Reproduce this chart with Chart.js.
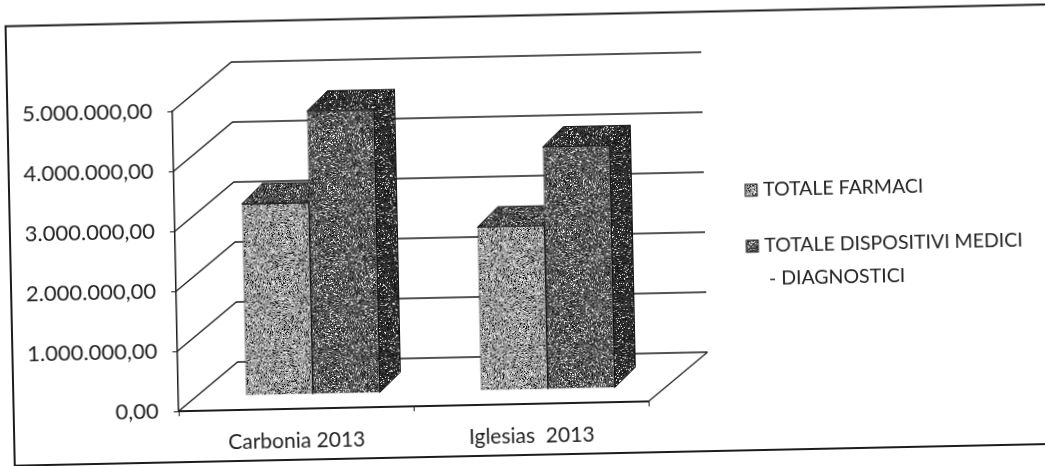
<!DOCTYPE html>
<html lang="it">
<head>
  <meta charset="UTF-8" />
  <title>Totale farmaci e dispositivi medici</title>
  <script src="https://cdn.jsdelivr.net/npm/chart.js"></script>
  <style>
    html, body { margin: 0; background: #fff; overflow: hidden; width: 1045px; height: 466px; }
    /* the source is a crooked scan, so the whole canvas is turned a little */
    #chart { position: absolute; left: -20px; top: -20px; transform-origin: 542.5px 253px; transform: rotate(-1.2deg); }
  </style>
</head>
<body>
  <canvas id="chart" width="1085" height="506"></canvas>
  <script>
    const categories = ['Carbonia 2013', 'Iglesias  2013'];
    const farmaci = [3200000, 2730000];
    const dispositivi = [4720000, 4040000];
    const tickLabels = ['0,00', '1.000.000,00', '2.000.000,00', '3.000.000,00', '4.000.000,00', '5.000.000,00'];
    const legendLines = [['TOTALE FARMACI'], ['TOTALE DISPOSITIVI MEDICI', '- DIAGNOSTICI']];

    const ink = '#1c1c1c';
    const fontFamily = 'Lato, "Open Sans", sans-serif';

    // 3D look: how far the back wall and the bars sit behind the axes
    const wall = { dx: 60, dy: -48 };
    const barShift = { dx: 17, dy: -14 };
    const barDepth = { dx: 21, dy: -20 };

    // scanned dither texture, deterministic
    function speckle(base, whiteShare, blackShare, salt) {
      const c = document.createElement('canvas');
      c.width = c.height = 128;
      const g = c.getContext('2d');
      let s = salt * 2654435761 >>> 0;
      for (let y = 0; y < 128; y++) {
        for (let x = 0; x < 128; x++) {
          s ^= s << 13; s >>>= 0;
          s ^= s >>> 17;
          s ^= s << 5; s >>>= 0;
          const n = s / 4294967296;
          g.fillStyle = n < whiteShare ? '#e8e8e8' : n > 1 - blackShare ? '#161616' : base;
          g.fillRect(x, y, 1, 1);
        }
      }
      return g.createPattern(c, 'repeat');
    }

    const ctx = document.getElementById('chart').getContext('2d');
    const lightFront = speckle('#969696', 0.2, 0.14, 1);
    const darkFront = speckle('#5c5c5c', 0.14, 0.2, 2);
    const lightTop = speckle('#5a5a5a', 0.1, 0.25, 3);
    const darkTop = speckle('#3e3e3e', 0.1, 0.35, 4);
    const darkSide = speckle('#3a3a3a', 0.09, 0.38, 5);

    const wallsAndFaces = {
      id: 'wallsAndFaces',
      beforeDraw(chart) {
        // outer frame, the right side runs off the page
        const c = chart.ctx;
        c.save();
        c.strokeStyle = ink;
        c.lineWidth = 2;
        c.strokeRect(30, 35.5, 1100, 439.5);
        c.restore();
      },
      beforeDatasetsDraw(chart) {
        const c = chart.ctx;
        const { left, right, bottom } = chart.chartArea;
        const y = chart.scales.y;
        c.save();
        c.strokeStyle = ink;
        c.lineWidth = 1.3;
        tickLabels.forEach((label, i) => {
          const py = y.getPixelForValue(i * 1000000);
          c.beginPath();
          c.moveTo(left, py);
          c.lineTo(left + wall.dx, py + wall.dy);
          c.lineTo(right + wall.dx, py + wall.dy);
          c.stroke();
        });
        c.beginPath();
        c.moveTo(right, bottom);
        c.lineTo(right + wall.dx, bottom + wall.dy);
        c.stroke();

        // top and side of each bar go under the fronts the library draws
        c.translate(barShift.dx, barShift.dy);
        c.strokeStyle = '#111';
        c.lineWidth = 1;
        chart.getDatasetMeta(0).data.forEach((bar, i) => {
          [[bar, lightTop], [chart.getDatasetMeta(1).data[i], darkTop]].forEach(([b, topFill]) => {
            const l = b.x - b.width / 2;
            const r = b.x + b.width / 2;
            c.fillStyle = topFill;
            c.beginPath();
            c.moveTo(l, b.y);
            c.lineTo(l + barDepth.dx, b.y + barDepth.dy);
            c.lineTo(r + barDepth.dx, b.y + barDepth.dy);
            c.lineTo(r, b.y);
            c.closePath();
            c.fill();
            c.stroke();
            c.fillStyle = darkSide;
            c.beginPath();
            c.moveTo(r, b.y);
            c.lineTo(r + barDepth.dx, b.y + barDepth.dy);
            c.lineTo(r + barDepth.dx, b.base + barDepth.dy);
            c.lineTo(r, b.base);
            c.closePath();
            c.fill();
            c.stroke();
          });
        });
        c.restore();
      },
      beforeDatasetDraw(chart) {
        chart.ctx.save();
        chart.ctx.translate(barShift.dx, barShift.dy);
      },
      afterDatasetDraw(chart) {
        chart.ctx.restore();
      },
      afterDraw(chart) {
        // legend, second entry wraps on two lines
        const c = chart.ctx;
        const fills = [lightFront, darkFront];
        const rows = [[766, 215], [766, 271]];
        c.save();
        c.font = '19.5px ' + fontFamily;
        c.textBaseline = 'middle';
        legendLines.forEach((lines, i) => {
          const [boxX, rowY] = rows[i];
          c.fillStyle = fills[i];
          c.fillRect(boxX, rowY - 6, 12, 12);
          c.strokeStyle = ink;
          c.strokeRect(boxX, rowY - 6, 12, 12);
          c.fillStyle = '#222';
          lines.forEach((line, k) => {
            c.fillText(line, boxX + 18 + (k ? 4 : 0), rowY + k * 33);
          });
        });
        c.restore();
      }
    };

    new Chart(ctx, {
      type: 'bar',
      data: {
        labels: categories,
        datasets: [
          { label: legendLines[0].join(' '), data: farmaci, backgroundColor: lightFront, borderColor: '#222', borderWidth: 1 },
          { label: legendLines[1].join(' '), data: dispositivi, backgroundColor: darkFront, borderColor: '#111', borderWidth: 1 }
        ]
      },
      options: {
        responsive: false,
        animation: false,
        layout: { padding: { top: 124, right: 420, left: 0, bottom: 0 } },
        datasets: { bar: { categoryPercentage: 0.57, barPercentage: 1 } },
        plugins: { legend: { display: false }, tooltip: { enabled: false } },
        scales: {
          x: {
            afterFit: s => { s.height = 82; },
            border: { color: ink, width: 2 },
            grid: { drawOnChartArea: false, color: ink, tickLength: 5 },
            ticks: { color: '#222', padding: 15, maxRotation: 0, font: { family: fontFamily, size: 21 } }
          },
          y: {
            min: 0,
            max: 5000000,
            afterFit: s => { s.width = 195; },
            border: { color: ink, width: 1.5 },
            grid: { drawOnChartArea: false, color: ink, tickLength: 5 },
            ticks: {
              stepSize: 1000000,
              color: '#222',
              padding: 15,
              font: { family: fontFamily, size: 22 },
              callback: v => tickLabels[v / 1000000]
            }
          }
        }
      },
      plugins: [wallsAndFaces]
    });
  </script>
</body>
</html>
